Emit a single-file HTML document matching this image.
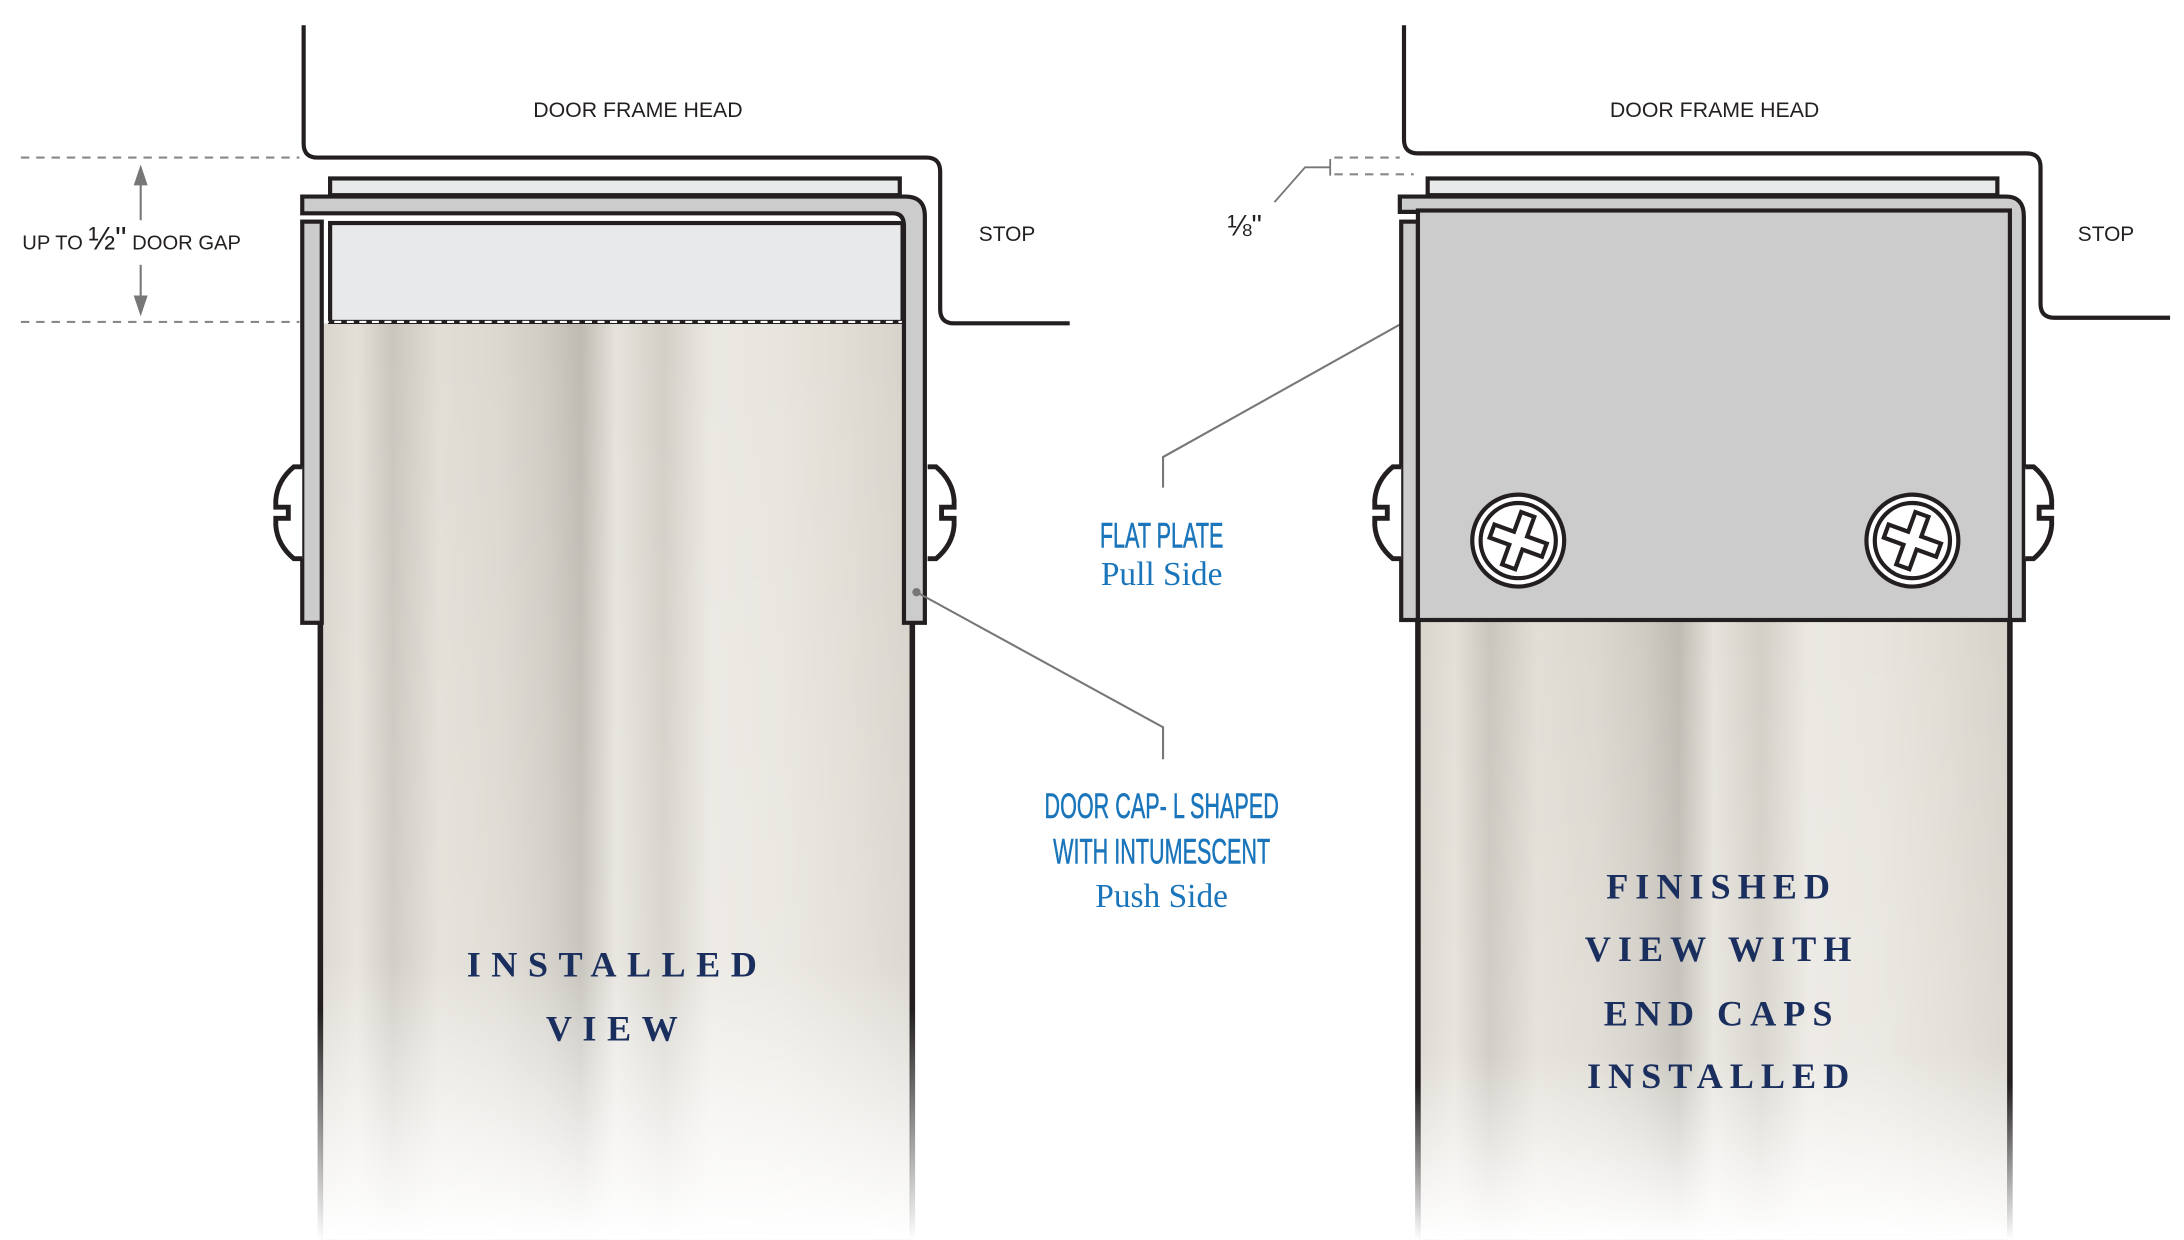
<!DOCTYPE html>
<html><head><meta charset="utf-8"><style>
html,body{margin:0;padding:0;background:#fff;}
svg{display:block}
</style></head><body>
<svg width="2184" height="1240" viewBox="0 0 1568 890" xmlns="http://www.w3.org/2000/svg">
<defs>
<linearGradient id="wood" x1="0" x2="1" y1="0" y2="0">
<stop offset="0" stop-color="#d8d4cc"/>
<stop offset="0.06" stop-color="#e4e0d8"/>
<stop offset="0.12" stop-color="#cac6be"/>
<stop offset="0.2" stop-color="#e2ded6"/>
<stop offset="0.3" stop-color="#dcd8d0"/>
<stop offset="0.38" stop-color="#d0ccc4"/>
<stop offset="0.44" stop-color="#bfbbb3"/>
<stop offset="0.5" stop-color="#e6e3dc"/>
<stop offset="0.58" stop-color="#d3cfc7"/>
<stop offset="0.66" stop-color="#ebe8e2"/>
<stop offset="0.78" stop-color="#e8e5de"/>
<stop offset="0.9" stop-color="#e0dcd4"/>
<stop offset="1" stop-color="#d6d2ca"/>
</linearGradient>
<linearGradient id="fade" x1="0" x2="0" y1="0" y2="1">
<stop offset="0" stop-color="#fff" stop-opacity="0"/>
<stop offset="0.7" stop-color="#fff" stop-opacity="0.15"/>
<stop offset="1" stop-color="#fff" stop-opacity="1"/>
</linearGradient>
<linearGradient id="edgefade" x1="0" x2="0" y1="0" y2="1">
<stop offset="0" stop-color="#231f20"/>
<stop offset="0.75" stop-color="#231f20"/>
<stop offset="1" stop-color="#231f20" stop-opacity="0"/>
</linearGradient>
<g id="hingeL">
<path d="M20 0 H14 Q2 10 1 24 V29 H10 V37 H1 V42 Q2 56 14 66 H20" fill="#fff" stroke="#231f20" stroke-width="3.5"/>
</g>
</defs>

<!-- LEFT ASSEMBLY -->
<path d="M218 18 V103 Q218 113 228 113 H665 Q675 113 675 123 V222 Q675 232 685 232 H768" fill="none" stroke="#231f20" stroke-width="3"/>
<line x1="15" y1="113" x2="215" y2="113" stroke="#888" stroke-width="1.5" stroke-dasharray="6,5"/>
<line x1="15" y1="231" x2="215" y2="231" stroke="#888" stroke-width="1.5" stroke-dasharray="6,5"/>
<line x1="101" y1="128" x2="101" y2="158" stroke="#777" stroke-width="1.5"/>
<line x1="101" y1="190" x2="101" y2="218" stroke="#777" stroke-width="1.5"/>
<polygon points="101,118 96,133 106,133" fill="#777"/>
<polygon points="101,227 96,212 106,212" fill="#777"/>
<text x="16" y="179" font-family="Liberation Sans, sans-serif" font-size="14.5" fill="#231f20">UP TO <tspan font-size="23">½"</tspan> DOOR GAP</text>
<text x="458" y="84" text-anchor="middle" font-family="Liberation Sans, sans-serif" font-size="15.3" fill="#231f20">DOOR FRAME HEAD</text>
<text x="723" y="173" text-anchor="middle" font-family="Liberation Sans, sans-serif" font-size="15" fill="#231f20">STOP</text>

<rect x="231" y="232" width="423" height="658" fill="url(#wood)"/>
<rect x="231" y="232" width="423" height="658" fill="url(#fade)"/>
<rect x="228" y="232" width="4" height="658" fill="url(#edgefade)"/>
<rect x="653" y="232" width="4" height="658" fill="url(#edgefade)"/>
<rect x="237" y="160" width="411" height="71" fill="#e8e9eb" stroke="#231f20" stroke-width="3"/>
<line x1="231" y1="231" x2="662" y2="231" stroke="#fff" stroke-width="1.5" stroke-dasharray="5,4"/>
<rect x="237" y="128" width="409" height="12" fill="#e8e9eb" stroke="#231f20" stroke-width="3"/>
<path d="M217 141 H650 Q664 141 664 155 V447 H649 V162 Q649 153 641 153 H217 Z" fill="#cccccc" stroke="#231f20" stroke-width="3"/>
<rect x="217" y="159" width="14" height="288" fill="#cccccc" stroke="#231f20" stroke-width="3"/>
<use href="#hingeL" x="197" y="335"/>
<use href="#hingeL" transform="translate(686,335) scale(-1,1)"/>

<text x="443" y="701" text-anchor="middle" font-family="Liberation Serif, serif" font-weight="bold" font-size="26" letter-spacing="7.5" fill="#1b2f5e">INSTALLED</text>
<text x="443" y="747" text-anchor="middle" font-family="Liberation Serif, serif" font-weight="bold" font-size="26" letter-spacing="7.5" fill="#1b2f5e">VIEW</text>

<polyline points="658,425 835,522 835,545" fill="none" stroke="#777" stroke-width="1.5"/>
<circle cx="658" cy="425" r="3" fill="#777"/>
<g font-family="Liberation Sans Narrow, Liberation Sans, sans-serif" font-size="25" fill="#1a75bb" text-anchor="middle" transform="translate(834 0) scale(0.62 1) translate(-834 0)" stroke="#1a75bb" stroke-width="0.4">
<text x="834" y="587">DOOR CAP- L SHAPED</text>
<text x="834" y="620">WITH INTUMESCENT</text>
<text x="834" y="393">FLAT PLATE</text>
</g>
<text x="834" y="651" text-anchor="middle" font-family="Liberation Serif, serif" font-size="24" fill="#1a75bb">Push Side</text>

<polyline points="1012,229 835,328 835,350" fill="none" stroke="#777" stroke-width="1.5"/>
<circle cx="1012" cy="229" r="3" fill="#777"/>
<text x="834" y="420" text-anchor="middle" font-family="Liberation Serif, serif" font-size="24" fill="#1a75bb">Pull Side</text>

<!-- RIGHT ASSEMBLY -->
<path d="M1008 18 V100 Q1008 110 1018 110 H1455 Q1465 110 1465 120 V218 Q1465 228 1475 228 H1558" fill="none" stroke="#231f20" stroke-width="3"/>
<text x="1231" y="84" text-anchor="middle" font-family="Liberation Sans, sans-serif" font-size="15.3" fill="#231f20">DOOR FRAME HEAD</text>
<text x="1512" y="173" text-anchor="middle" font-family="Liberation Sans, sans-serif" font-size="15" fill="#231f20">STOP</text>
<line x1="958" y1="113" x2="1005" y2="113" stroke="#888" stroke-width="1.5" stroke-dasharray="6,5"/>
<line x1="958" y1="125" x2="1015" y2="125" stroke="#888" stroke-width="1.5" stroke-dasharray="6,5"/>
<polyline points="915,145 937,120 955,120" fill="none" stroke="#777" stroke-width="1.3"/>
<line x1="955" y1="114" x2="955" y2="126" stroke="#777" stroke-width="1.3"/>
<text x="881" y="169" font-family="Liberation Sans, sans-serif" font-size="21" fill="#231f20">⅛"</text>

<rect x="1019" y="445" width="423" height="445" fill="url(#wood)"/>
<rect x="1019" y="445" width="423" height="445" fill="url(#fade)"/>
<rect x="1016" y="445" width="4" height="445" fill="url(#edgefade)"/>
<rect x="1441" y="445" width="4" height="445" fill="url(#edgefade)"/>
<rect x="1025" y="128" width="409" height="12" fill="#e8e9eb" stroke="#231f20" stroke-width="3"/>
<path d="M1005 141 H1440 Q1453 141 1453 155 V445 H1443 V160 Q1443 152 1435 152 H1005 Z" fill="#cccccc" stroke="#231f20" stroke-width="3"/>
<rect x="1006" y="159" width="12" height="286" fill="#cccccc" stroke="#231f20" stroke-width="3"/>
<rect x="1018" y="151" width="425" height="294" fill="#cccccc" stroke="#231f20" stroke-width="3"/>
<use href="#hingeL" x="986" y="335"/>
<use href="#hingeL" transform="translate(1474,335) scale(-1,1)"/>
<circle cx="1090" cy="388" r="33" fill="#fff" stroke="#231f20" stroke-width="3"/>
<circle cx="1090" cy="388" r="27" fill="#fff" stroke="#231f20" stroke-width="3"/>
<path d="M-5 -20 H5 V-5 H20 V5 H5 V20 H-5 V5 H-20 V-5 H-5 Z" transform="translate(1090 388) rotate(20)" fill="#fff" stroke="#231f20" stroke-width="3"/>
<circle cx="1373" cy="388" r="33" fill="#fff" stroke="#231f20" stroke-width="3"/>
<circle cx="1373" cy="388" r="27" fill="#fff" stroke="#231f20" stroke-width="3"/>
<path d="M-5 -20 H5 V-5 H20 V5 H5 V20 H-5 V5 H-20 V-5 H-5 Z" transform="translate(1373 388) rotate(20)" fill="#fff" stroke="#231f20" stroke-width="3"/>

<g font-family="Liberation Serif, serif" font-weight="bold" font-size="26" letter-spacing="5" fill="#1b2f5e" text-anchor="middle">
<text x="1236" y="645">FINISHED</text>
<text x="1236" y="690">VIEW WITH</text>
<text x="1236" y="736">END CAPS</text>
<text x="1236" y="781">INSTALLED</text>
</g>
</svg>
</body></html>
